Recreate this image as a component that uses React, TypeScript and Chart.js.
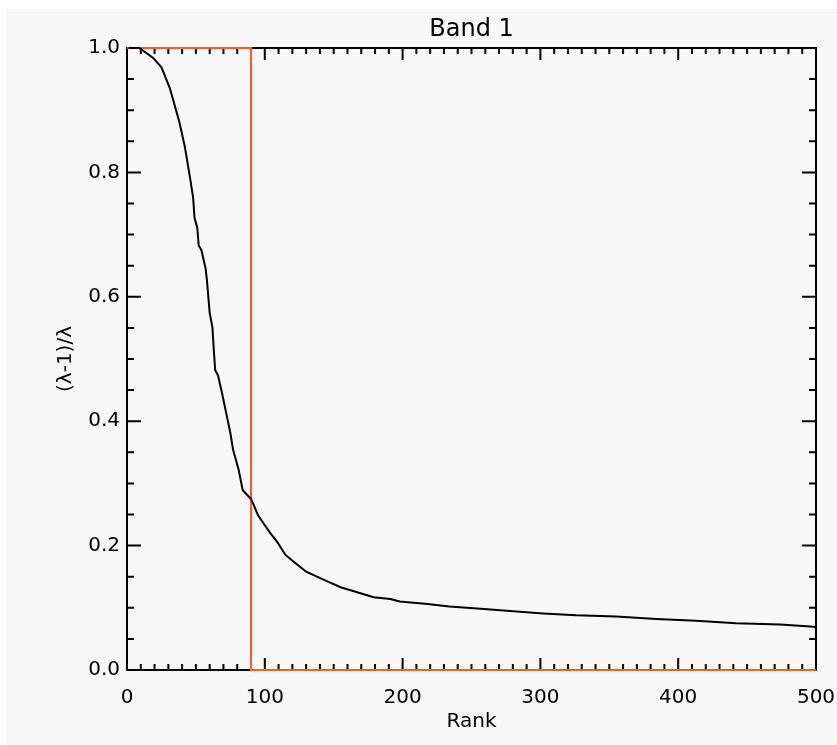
import React, { useEffect, useRef } from "react";
import { Chart, registerables } from "chart.js";

Chart.register(...registerables);

const TITLE = "Band 1";
const X_LABEL = "Rank";
const Y_LABEL = "(λ-1)/λ";

// Black curve: rank vs (λ-1)/λ
const RANKS = [
  1, 9, 19, 25, 31, 38, 42, 46, 48, 49, 51, 52, 54, 57, 58, 60, 62, 63, 64, 66,
  69, 70, 72, 75, 77, 81, 84, 90, 92, 95, 99, 104, 109, 115, 121, 130, 143, 155,
  167, 179, 191, 198, 218, 234, 259, 278, 302, 326, 355, 384, 413, 442, 474, 496, 500,
];
const RATIOS = [
  1.0, 1.0, 0.984, 0.969, 0.936, 0.881, 0.841, 0.788, 0.759, 0.727, 0.711, 0.683,
  0.675, 0.646, 0.627, 0.574, 0.551, 0.514, 0.482, 0.474, 0.445, 0.434, 0.413,
  0.381, 0.354, 0.322, 0.289, 0.275, 0.265, 0.249, 0.236, 0.22, 0.206, 0.185,
  0.174, 0.158, 0.145, 0.133, 0.125, 0.117, 0.114, 0.11, 0.106, 0.102, 0.098,
  0.095, 0.091, 0.088, 0.086, 0.082, 0.079, 0.075, 0.073, 0.07, 0.069,
];

// Orange-red cutoff step
const CUTOFF_X = [0, 90, 90, 500];
const CUTOFF_Y = [1, 1, 0, 0];

const X_MIN = 0;
const X_MAX = 500;
const X_MAJOR = 100;
const X_MINOR_PER_MAJOR = 10;
const Y_MIN = 0;
const Y_MAX = 1;
const Y_MAJOR = 0.2;
const Y_MINOR_PER_MAJOR = 4;

const BG = "#f7f7f7";
const RED = "#fa5a28";

const framePlugin = {
  id: "idlFrame",
  beforeDraw(chart: any) {
    const { ctx, width, height } = chart;
    ctx.save();
    ctx.fillStyle = BG;
    ctx.fillRect(0, 0, width, height);
    ctx.restore();
  },
  beforeDatasetsDraw(chart: any) {
    const { ctx, chartArea, scales } = chart;
    const { left, right, top, bottom } = chartArea;
    const xs = scales.x;
    const ys = scales.y;
    ctx.save();
    ctx.strokeStyle = "#000";
    ctx.lineWidth = 2;
    ctx.strokeRect(left, top, right - left, bottom - top);
    ctx.beginPath();
    const nx = ((X_MAX - X_MIN) / X_MAJOR) * X_MINOR_PER_MAJOR;
    for (let i = 0; i <= nx; i++) {
      const v = X_MIN + (i * X_MAJOR) / X_MINOR_PER_MAJOR;
      const px = xs.getPixelForValue(v);
      const len = i % X_MINOR_PER_MAJOR === 0 ? 12 : 6;
      ctx.moveTo(px, bottom);
      ctx.lineTo(px, bottom - len);
      ctx.moveTo(px, top);
      ctx.lineTo(px, top + len);
    }
    const ny = Math.round(((Y_MAX - Y_MIN) / Y_MAJOR) * Y_MINOR_PER_MAJOR);
    for (let i = 0; i <= ny; i++) {
      const v = Y_MIN + (i * Y_MAJOR) / Y_MINOR_PER_MAJOR;
      const py = ys.getPixelForValue(v);
      const len = i % Y_MINOR_PER_MAJOR === 0 ? 14 : 7;
      ctx.moveTo(left, py);
      ctx.lineTo(left + len, py);
      ctx.moveTo(right, py);
      ctx.lineTo(right - len, py);
    }
    ctx.stroke();
    ctx.restore();
  },
};

export default function App() {
  const canvasRef = useRef<HTMLCanvasElement | null>(null);

  useEffect(() => {
    document.body.style.margin = "0";
    document.body.style.overflow = "hidden";
    const canvas = canvasRef.current;
    if (!canvas) return;
    Chart.defaults.font.family = "'DejaVu Sans', sans-serif";

    const chart = new Chart(canvas, {
      type: "line",
      data: {
        datasets: [
          {
            label: "ratio",
            data: RANKS.map((r, i) => ({ x: r, y: RATIOS[i] })),
            borderColor: "#000",
            borderWidth: 2,
            pointRadius: 0,
            tension: 0,
            fill: false,
            clip: false,
          } as any,
          {
            label: "cutoff",
            data: CUTOFF_X.map((r, i) => ({ x: r, y: CUTOFF_Y[i] })),
            borderColor: RED,
            borderWidth: 2,
            pointRadius: 0,
            tension: 0,
            fill: false,
            clip: false,
          } as any,
        ],
      },
      options: {
        responsive: false,
        animation: false,
        devicePixelRatio: 1,
        layout: { padding: { left: 0, right: 21, top: 0, bottom: 0 } },
        plugins: {
          legend: { display: false },
          tooltip: { enabled: false },
          title: {
            display: true,
            text: TITLE,
            fullSize: false,
            color: "#000",
            font: { size: 24, weight: "normal" },
            padding: { top: 6, bottom: 4.2 },
          },
        },
        scales: {
          x: {
            type: "linear",
            min: X_MIN,
            max: X_MAX,
            grid: { display: false, drawTicks: false },
            border: { display: false },
            ticks: {
              stepSize: X_MAJOR,
              padding: 16,
              color: "#000",
              font: { size: 20 },
              maxRotation: 0,
            },
            title: {
              display: true,
              text: X_LABEL,
              color: "#000",
              font: { size: 20 },
              padding: { top: 0, bottom: 11 },
            },
            afterFit: (s: any) => {
              s.height = 75;
              s.paddingLeft = 0;
              s.paddingRight = 0;
            },
          },
          y: {
            type: "linear",
            min: Y_MIN,
            max: Y_MAX,
            grid: { display: false, drawTicks: false },
            border: { display: false },
            ticks: {
              stepSize: Y_MAJOR,
              padding: 7,
              color: "#000",
              font: { size: 20 },
              callback: (v: any) => Number(v).toFixed(1),
            },
            title: {
              display: true,
              text: Y_LABEL,
              color: "#000",
              font: { size: 20 },
              padding: { top: 48, bottom: 0 },
            },
            afterFit: (s: any) => {
              s.width = 121;
              s.paddingTop = 0;
              s.paddingBottom = 0;
            },
          },
        },
      } as any,
      plugins: [framePlugin],
    });
    return () => chart.destroy();
  }, []);

  return (
    <div style={{ position: "relative", width: 837, height: 745, background: "#fff", overflow: "hidden" }}>
      <canvas
        ref={canvasRef}
        width={831}
        height={736}
        style={{ position: "absolute", left: 6, top: 9, width: 831, height: 736 }}
      />
    </div>
  );
}
